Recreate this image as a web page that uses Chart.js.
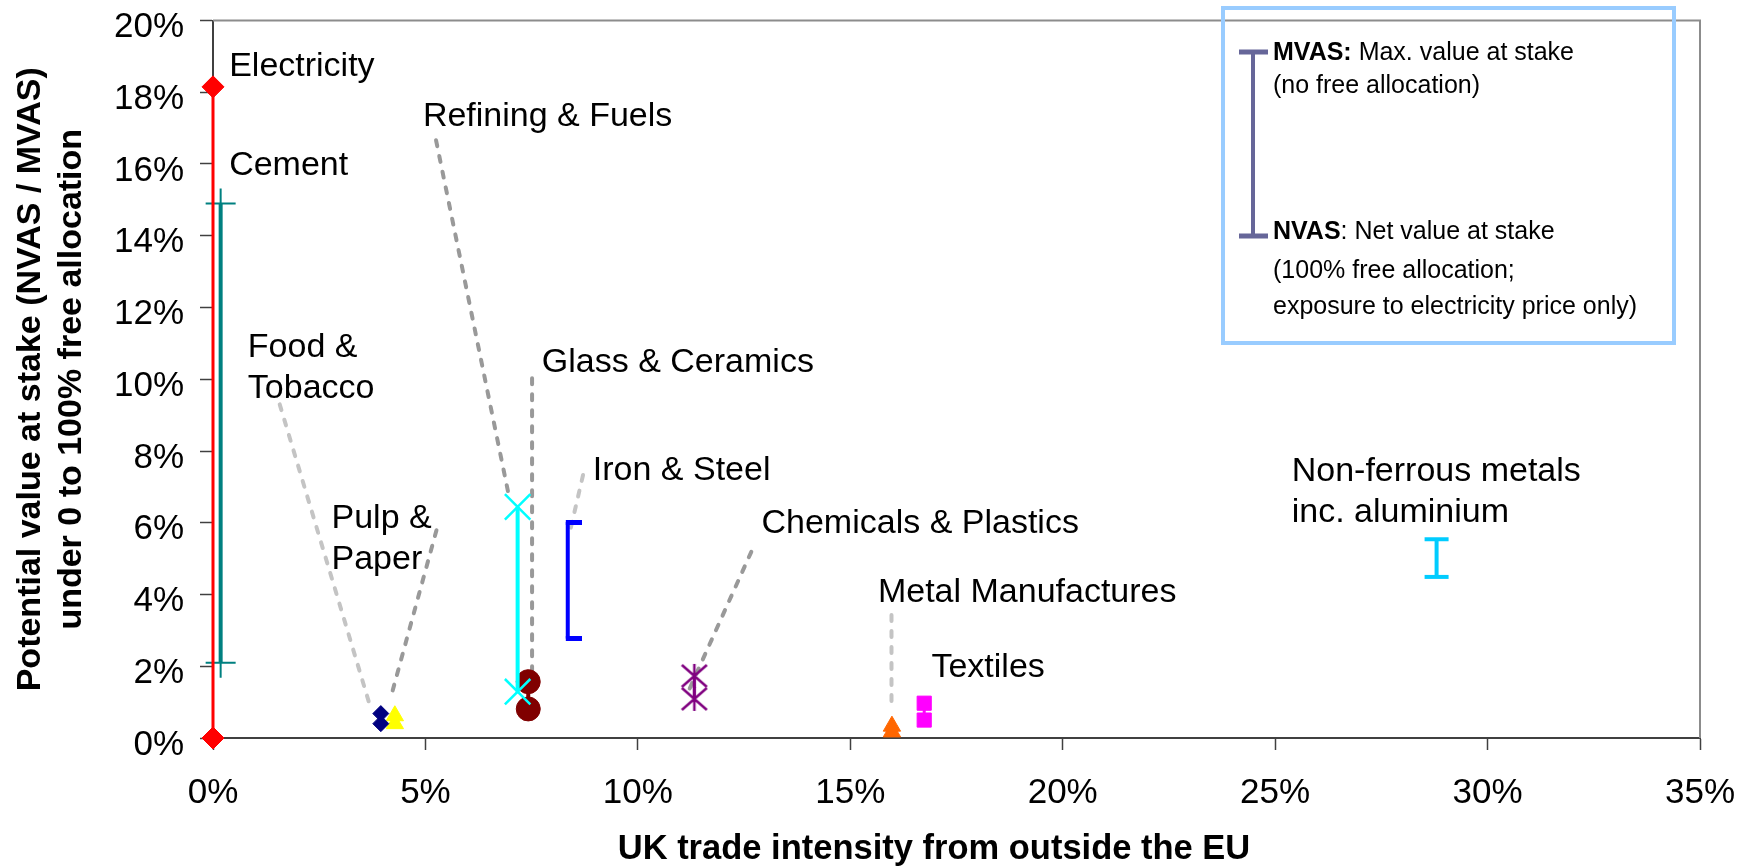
<!DOCTYPE html>
<html>
<head>
<meta charset="utf-8">
<title>Value at stake vs trade intensity</title>
<script src="https://cdn.jsdelivr.net/npm/chart.js@4.4.1/dist/chart.umd.min.js"></script>
<style>
html, body { margin: 0; padding: 0; background: #fff; }
#wrap { width: 1746px; height: 866px; }
</style>
</head>
<body>
<div id="wrap"><canvas id="chart"></canvas></div>
<script>
// ------------------------------------------
// data (all values in %)
// ------------------------------------------

const sectors = [
    "Electricity", "Cement", "Food & Tobacco", "Pulp & Paper",
    "Refining & Fuels", "Glass & Ceramics", "Iron & Steel",
    "Chemicals & Plastics", "Metal Manufactures", "Textiles",
    "Non-ferrous metals inc. aluminium"
];

// UK trade intensity from outside the EU
const tradeIntensity = [0.0, 0.18, 3.95, 4.28, 7.17, 7.42, 8.35, 11.33, 15.98, 16.74, 28.8];

// NVAS (100% free allocation) and MVAS (no free allocation)
const nvas = [0.0, 2.1, 0.4, 0.4, 1.29, 0.81, 2.77, 1.09, 0.17, 0.5, 4.49];
const mvas = [18.15, 14.9, 0.68, 0.62, 6.44, 1.57, 6.02, 1.73, 0.33, 0.97, 5.54];

const xTicks = [0, 5, 10, 15, 20, 25, 30, 35];
const yTicks = [0, 2, 4, 6, 8, 10, 12, 14, 16, 18, 20];

// sector labels: text lines, and anchor (left edge, first baseline) in axis units
const labelLines = [
    ["Electricity"], ["Cement"], ["Food &", "Tobacco"], ["Pulp &", "Paper"],
    ["Refining & Fuels"], ["Glass & Ceramics"], ["Iron & Steel"],
    ["Chemicals & Plastics"], ["Metal Manufactures"], ["Textiles"],
    ["Non-ferrous metals", "inc. aluminium"]
];
const labelAt = [
    [0.38, 18.44], [0.38, 15.68], [0.82, 10.62], [2.79, 5.85],
    [4.94, 17.05], [7.74, 10.21], [8.94, 7.19],
    [12.91, 5.71], [15.65, 3.79], [16.91, 1.70],
    [25.39, 7.16]
];

// dashed leader lines from label to marker
const leaderFrom = [[1.57, 9.3], [5.26, 5.79], [5.25, 16.66], [7.51, 10.03], [8.71, 7.33], [12.67, 5.19], [15.97, 3.43]];
const leaderTo = [[3.69, 0.92], [4.2, 1.2], [6.97, 6.72], [7.51, 1.81], [8.42, 5.85], [11.22, 1.38], [15.97, 0.97]];
const leaderShade = ["light", "dark", "dark", "dark", "light", "dark", "light"];

const xTitle = "UK trade intensity from outside the EU";
const yTitle = ["Potential value at stake (NVAS / MVAS)", "under 0 to 100% free allocation"];

// ------------------------------------------
// styles
// ------------------------------------------

const FONT = "'Liberation Sans', Arial, Helvetica, sans-serif";

function bracketMark(color){
    const c = document.createElement("canvas");
    c.width = 28;
    c.height = 5;
    const g = c.getContext("2d");
    g.fillStyle = color;
    g.fillRect(12, 0, 16, 5);
    return c;
}

function starMark(color){
    const c = document.createElement("canvas");
    c.width = 28;
    c.height = 28;
    const g = c.getContext("2d");
    g.strokeStyle = color;
    g.lineWidth = 2.5;
    g.beginPath();
    g.moveTo(1.5, 3); g.lineTo(26.5, 25);
    g.moveTo(26.5, 3); g.lineTo(1.5, 25);
    g.moveTo(14, 2); g.lineTo(14, 26);
    g.stroke();
    return c;
}

const looks = [
    {color: "#FF0000", width: 3, point: "rectRot", r: 11, pw: 1},
    {color: "#008080", width: 4, point: "cross", r: 15, pw: 2},
    {color: "#000080", width: 2, point: "rectRot", r: 8, pw: 1},
    {color: "#FFFF00", width: 2, point: "triangle", r: 10, pw: 1},
    {color: "#00FFFF", width: 4, point: "crossRot", r: 18, pw: 2.5},
    {color: "#800000", width: 4, point: "circle", r: 12, pw: 1},
    {color: "#0000FF", width: 4, point: bracketMark("#0000FF"), r: 14, pw: 1},
    {color: "#800080", width: 3, point: starMark("#800080"), r: 14, pw: 1},
    {color: "#FF6600", width: 2, point: "triangle", r: 10, pw: 1},
    {color: "#FF00FF", width: 3, point: "rect", r: 10, pw: 1},
    {color: "#00CCFF", width: 4, point: "line", r: 12, pw: 4}
];

const sectorSets = sectors.map((name, i) => ({
    label: name,
    data: [
        {x: tradeIntensity[i], y: nvas[i]},
        {x: tradeIntensity[i], y: mvas[i]}
    ],
    showLine: true,
    borderColor: looks[i].color,
    borderWidth: looks[i].width,
    pointStyle: looks[i].point,
    pointRadius: looks[i].r,
    pointBackgroundColor: looks[i].color,
    pointBorderColor: looks[i].color,
    pointBorderWidth: looks[i].pw,
    clip: false,
    order: 0
}));

const leaderSets = leaderFrom.map((p, i) => ({
    label: "leader " + i,
    data: [{x: p[0], y: p[1]}, {x: leaderTo[i][0], y: leaderTo[i][1]}],
    showLine: true,
    borderColor: leaderShade[i] === "dark" ? "#999999" : "#C4C4C4",
    borderWidth: 4,
    borderDash: [6, 10],
    borderCapStyle: "round",
    pointRadius: 0,
    clip: false,
    order: 1
}));

// ------------------------------------------
// plot frame, labels, x title and the key box
// ------------------------------------------

const decorations = {
    id: "decorations",
    beforeDatasetsDraw(chart){
        const {ctx, chartArea: a} = chart;
        ctx.save();
        ctx.strokeStyle = "#8C8C8C";
        ctx.lineWidth = 2;
        ctx.beginPath();
        ctx.moveTo(a.left, a.top);
        ctx.lineTo(a.right, a.top);
        ctx.lineTo(a.right, a.bottom);
        ctx.stroke();
        ctx.restore();
    },
    afterDatasetsDraw(chart){
        const {ctx} = chart;
        const xs = chart.scales.x;
        const ys = chart.scales.y;

        ctx.save();
        ctx.fillStyle = "#000";
        ctx.font = "34px " + FONT;
        ctx.textAlign = "left";
        ctx.textBaseline = "alphabetic";
        labelLines.forEach((lines, i) => {
            const px = xs.getPixelForValue(labelAt[i][0]);
            const py = ys.getPixelForValue(labelAt[i][1]);
            lines.forEach((t, k) => ctx.fillText(t, px, py + k * 41));
        });

        // x axis title, sits a little left of the plot centre
        ctx.font = "bold 34.5px " + FONT;
        ctx.textAlign = "center";
        ctx.fillText(xTitle, 934, 859);
        ctx.textAlign = "left";

        // key box
        ctx.strokeStyle = "#99CCFF";
        ctx.lineWidth = 4;
        ctx.strokeRect(1223, 8, 451, 335);

        ctx.strokeStyle = "#666699";
        ctx.lineWidth = 4;
        ctx.beginPath();
        ctx.moveTo(1253, 52);
        ctx.lineTo(1253, 236);
        ctx.stroke();
        ctx.lineWidth = 5;
        ctx.beginPath();
        ctx.moveTo(1239, 52); ctx.lineTo(1268, 52);
        ctx.moveTo(1239, 236); ctx.lineTo(1268, 236);
        ctx.stroke();

        const tx = 1273;
        ctx.font = "bold 25px " + FONT;
        ctx.fillText("MVAS:", tx, 59.5);
        let w = ctx.measureText("MVAS:").width;
        ctx.font = "25px " + FONT;
        ctx.fillText(" Max. value at stake", tx + w, 59.5);
        ctx.fillText("(no free allocation)", tx, 93);

        ctx.font = "bold 25px " + FONT;
        ctx.fillText("NVAS", tx, 239);
        w = ctx.measureText("NVAS").width;
        ctx.font = "25px " + FONT;
        ctx.fillText(": Net value at stake", tx + w, 239);
        ctx.fillText("(100% free allocation;", tx, 278);
        ctx.fillText("exposure to electricity price only)", tx, 314);
        ctx.restore();
    }
};

// ------------------------------------------
// chart
// ------------------------------------------

new Chart(

    document.getElementById("chart"),

    {

        type: "scatter",

        data: {
            datasets: sectorSets.concat(leaderSets)
        },

        options: {

            responsive: true,
            maintainAspectRatio: false,
            animation: false,
            events: [],

            layout: {
                padding: {top: 20, right: 46, bottom: 0, left: 0}
            },

            plugins: {
                legend: {display: false},
                tooltip: {enabled: false}
            },

            scales: {

                x: {
                    type: "linear",
                    min: 0,
                    max: 35,
                    afterBuildTicks: s => { s.ticks = xTicks.map(v => ({value: v})); },
                    afterFit: s => { s.height = 128; s.paddingLeft = 0; s.paddingRight = 0; },
                    ticks: {
                        callback: v => v + "%",
                        color: "#000",
                        padding: 22,
                        maxRotation: 0,
                        autoSkip: false,
                        font: {family: FONT, size: 35, lineHeight: 1.2}
                    },
                    grid: {
                        display: true,
                        drawOnChartArea: false,
                        drawTicks: true,
                        tickLength: 12,
                        tickColor: "#404040",
                        tickWidth: 1.5
                    },
                    border: {display: true, color: "#404040", width: 2},
                    title: {display: false}
                },

                y: {
                    type: "linear",
                    min: 0,
                    max: 20,
                    afterBuildTicks: s => { s.ticks = yTicks.map(v => ({value: v})); },
                    afterFit: s => { s.width = 213; s.paddingTop = 0; s.paddingBottom = 0; },
                    ticks: {
                        callback: v => v + "%",
                        color: "#000",
                        padding: 16,
                        labelOffset: 7,
                        font: {family: FONT, size: 35, lineHeight: 1.2}
                    },
                    grid: {
                        display: true,
                        drawOnChartArea: false,
                        drawTicks: true,
                        tickLength: 13,
                        tickColor: "#404040",
                        tickWidth: 1.5
                    },
                    border: {display: true, color: "#404040", width: 2},
                    title: {
                        display: true,
                        text: yTitle,
                        color: "#000",
                        padding: {top: 10, bottom: 0},
                        font: {family: FONT, size: 34, weight: "bold", lineHeight: 1.2}
                    }
                }

            }

        },

        plugins: [decorations]

    }

);
</script>
</body>
</html>
